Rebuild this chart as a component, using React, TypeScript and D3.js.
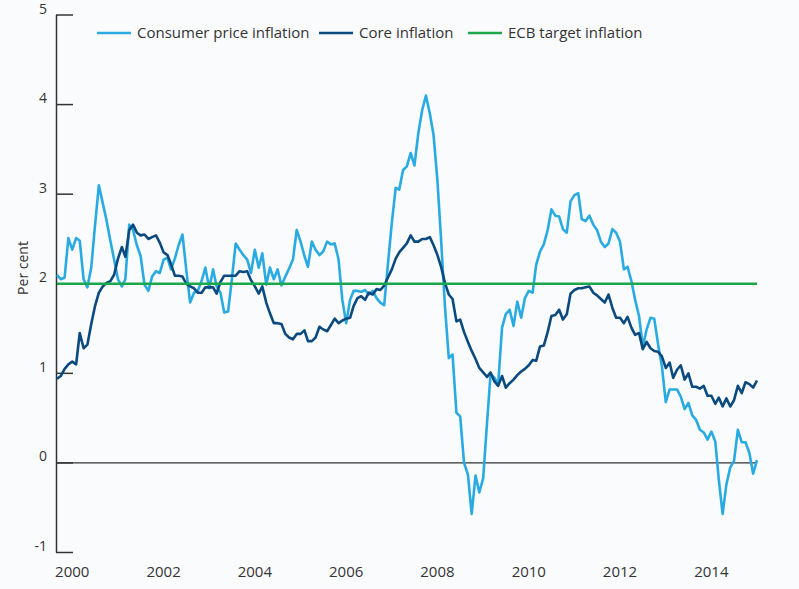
import { useEffect, useRef } from "react";
import * as d3 from "d3";

// monthly observations, Sep 1999 .. Jan 2015
const firstMonth = new Date(1999, 8, 1);

const cpi = [
  2.10, 2.05, 2.07, 2.51, 2.38, 2.51, 2.48, 2.05, 1.96, 2.18,
  2.65, 3.10, 2.90, 2.71, 2.48, 2.27, 2.05, 1.97, 2.05, 2.66,
  2.60, 2.43, 2.31, 1.99, 1.92, 2.08, 2.14, 2.12, 2.27, 2.29,
  2.16, 2.28, 2.43, 2.55, 2.16, 1.79, 1.90, 1.92, 2.03, 2.18,
  1.95, 2.16, 1.97, 1.90, 1.68, 1.69, 2.05, 2.45, 2.38, 2.32,
  2.27, 2.12, 2.38, 2.18, 2.34, 1.99, 2.18, 2.05, 2.16, 1.98,
  2.08, 2.17, 2.27, 2.60, 2.47, 2.31, 2.19, 2.47, 2.38, 2.32,
  2.36, 2.47, 2.44, 2.45, 2.27, 1.82, 1.56, 1.82, 1.92, 1.92,
  1.91, 1.93, 1.88, 1.92, 1.84, 1.79, 1.76, 2.22, 2.68, 3.07,
  3.05, 3.27, 3.31, 3.46, 3.32, 3.68, 3.94, 4.10, 3.90, 3.66,
  3.15, 2.45, 1.75, 1.17, 1.21, 0.56, 0.52, 0.00, -0.13, -0.57,
  -0.14, -0.33, -0.17, 0.45, 0.99, 0.95, 0.88, 1.51, 1.66, 1.71,
  1.53, 1.80, 1.62, 1.84, 1.92, 1.90, 2.21, 2.36, 2.44, 2.60,
  2.83, 2.76, 2.75, 2.61, 2.57, 2.92, 2.99, 3.01, 2.72, 2.70,
  2.76, 2.66, 2.60, 2.47, 2.41, 2.45, 2.61, 2.57, 2.47, 2.16,
  2.19, 2.03, 1.82, 1.64, 1.30, 1.49, 1.62, 1.61, 1.32, 1.08,
  0.68, 0.82, 0.82, 0.82, 0.74, 0.60, 0.67, 0.53, 0.48, 0.37,
  0.34, 0.26, 0.35, 0.24, -0.18, -0.57, -0.24, -0.05, 0.02, 0.37,
  0.23, 0.23, 0.11, -0.12, 0.03,
];

const core = [
  0.94, 0.97, 1.05, 1.10, 1.13, 1.10, 1.45, 1.28, 1.32, 1.55,
  1.75, 1.90, 1.97, 2.01, 2.03, 2.10, 2.28, 2.41, 2.30, 2.60,
  2.66, 2.57, 2.54, 2.55, 2.50, 2.52, 2.54, 2.46, 2.35, 2.32,
  2.22, 2.09, 2.09, 2.08, 2.00, 1.97, 1.95, 1.90, 1.90, 1.96,
  1.96, 1.96, 1.89, 2.02, 2.09, 2.09, 2.09, 2.09, 2.14, 2.13,
  2.14, 2.04, 1.97, 1.89, 1.97, 1.79, 1.67, 1.56, 1.56, 1.55,
  1.44, 1.40, 1.38, 1.44, 1.44, 1.48, 1.36, 1.36, 1.40, 1.52,
  1.49, 1.47, 1.54, 1.61, 1.56, 1.59, 1.61, 1.62, 1.75, 1.84,
  1.86, 1.82, 1.90, 1.88, 1.94, 1.93, 1.98, 2.07, 2.16, 2.28,
  2.35, 2.40, 2.45, 2.54, 2.47, 2.47, 2.50, 2.50, 2.52, 2.43,
  2.32, 2.18, 2.01, 1.88, 1.83, 1.58, 1.60, 1.46, 1.35, 1.25,
  1.16, 1.06, 1.01, 0.96, 1.01, 0.91, 0.86, 0.97, 0.84, 0.89,
  0.93, 0.98, 1.02, 1.05, 1.09, 1.15, 1.14, 1.30, 1.31, 1.46,
  1.64, 1.65, 1.71, 1.60, 1.66, 1.89, 1.93, 1.95, 1.95, 1.96,
  1.97, 1.90, 1.87, 1.83, 1.79, 1.88, 1.73, 1.62, 1.62, 1.56,
  1.63, 1.51, 1.43, 1.45, 1.27, 1.35, 1.28, 1.25, 1.24, 1.19,
  1.06, 1.12, 0.95, 1.04, 1.09, 0.93, 1.00, 0.85, 0.85, 0.83,
  0.86, 0.75, 0.75, 0.66, 0.73, 0.63, 0.72, 0.63, 0.70, 0.86,
  0.78, 0.90, 0.88, 0.84, 0.92,
];

const ecbTarget = 2;

const yTicks = [-1, 0, 1, 2, 3, 4, 5];
const xTickYears = [2000, 2002, 2004, 2006, 2008, 2010, 2012, 2014];

const seriesNames = ["Consumer price inflation", "Core inflation", "ECB target inflation"];
const seriesColors = ["#29abe2", "#0b4a7f", "#1aa84b"];

const font = "'Open Sans', 'DejaVu Sans', sans-serif";
const ink = "#333333";

export default function App() {
  const ref = useRef<SVGSVGElement>(null);

  useEffect(() => {
    if (ref.current) draw(ref.current);
  }, []);

  return (
    <svg
      ref={ref}
      width={799}
      height={589}
      style={{ position: "absolute", left: 0, top: 0 }}
    />
  );
}

function draw(node: SVGSVGElement) {
  const svg = d3.select(node);
  svg.selectAll("*").remove();

  const months = cpi.map((_, i) => d3.timeMonth.offset(firstMonth, i));

  const x = d3
    .scaleTime()
    .domain([months[0], months[months.length - 1]])
    .range([57, 757]);
  const y = d3.scaleLinear().domain([-1, 5]).range([552.5, 15]);

  svg.append("rect").attr("width", 799).attr("height", 589).attr("fill", "#fafbfd");

  // y axis
  svg
    .append("line")
    .attr("x1", 56.5)
    .attr("x2", 56.5)
    .attr("y1", y(5))
    .attr("y2", y(-1))
    .attr("stroke", ink)
    .attr("stroke-width", 1.5);

  svg
    .selectAll("line.ytick")
    .data(yTicks)
    .join("line")
    .attr("class", "ytick")
    .attr("x1", 56)
    .attr("x2", 73)
    .attr("y1", (d) => y(d))
    .attr("y2", (d) => y(d))
    .attr("stroke", ink)
    .attr("stroke-width", 1.5);

  svg
    .selectAll("text.ylab")
    .data(yTicks)
    .join("text")
    .attr("class", "ylab")
    .attr("x", 47)
    .attr("y", (d) => y(d) - 1.5)
    .attr("text-anchor", "end")
    .attr("font-family", font)
    .attr("font-size", 14)
    .attr("fill", ink)
    .text((d) => d);

  svg
    .append("text")
    .attr("transform", "translate(28,268) rotate(-90)")
    .attr("text-anchor", "middle")
    .attr("font-family", font)
    .attr("font-size", 14)
    .attr("fill", ink)
    .text("Per cent");

  // x labels
  svg
    .selectAll("text.xlab")
    .data(xTickYears)
    .join("text")
    .attr("class", "xlab")
    .attr("x", (d) => x(new Date(d, 0, 1)))
    .attr("y", 577)
    .attr("text-anchor", "middle")
    .attr("font-family", font)
    .attr("font-size", 15)
    .attr("fill", ink)
    .text((d) => d);

  // zero line
  svg
    .append("line")
    .attr("x1", 57)
    .attr("x2", 757)
    .attr("y1", y(0))
    .attr("y2", y(0))
    .attr("stroke", ink)
    .attr("stroke-width", 1.2);

  const line = d3
    .line<number>()
    .x((_, i) => x(months[i]))
    .y((d) => y(d));

  svg
    .append("path")
    .attr("d", line(cpi))
    .attr("fill", "none")
    .attr("stroke", seriesColors[0])
    .attr("stroke-width", 2.6)
    .attr("stroke-linejoin", "round");

  svg
    .append("path")
    .attr("d", line(core))
    .attr("fill", "none")
    .attr("stroke", seriesColors[1])
    .attr("stroke-width", 2.6)
    .attr("stroke-linejoin", "round");

  svg
    .append("line")
    .attr("x1", 57)
    .attr("x2", 757)
    .attr("y1", y(ecbTarget))
    .attr("y2", y(ecbTarget))
    .attr("stroke", seriesColors[2])
    .attr("stroke-width", 2.6);

  // legend
  const legendX = [97, 319, 468];
  const legend = svg
    .selectAll("g.legend")
    .data(seriesNames)
    .join("g")
    .attr("class", "legend")
    .attr("transform", (_, i) => `translate(${legendX[i]},33)`);

  legend
    .append("line")
    .attr("x1", 0)
    .attr("x2", 34)
    .attr("stroke", (_, i) => seriesColors[i])
    .attr("stroke-width", 2.6);

  legend
    .append("text")
    .attr("x", 40)
    .attr("y", 4.5)
    .attr("font-family", font)
    .attr("font-size", 15)
    .attr("fill", ink)
    .text((d) => d);
}
